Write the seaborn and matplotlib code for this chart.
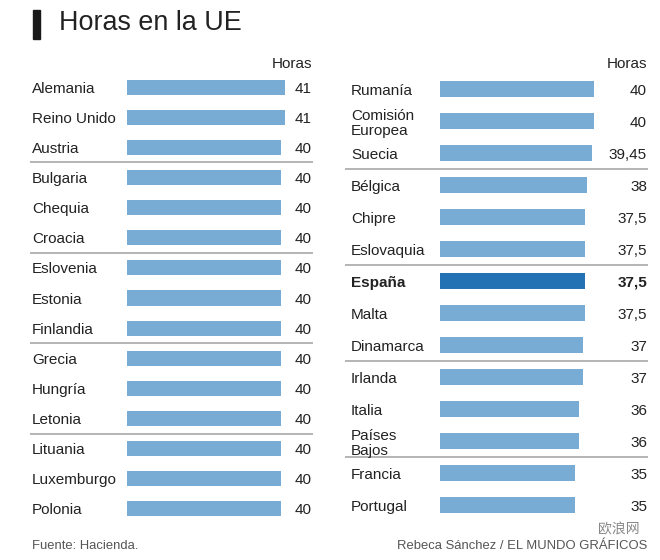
import matplotlib
matplotlib.use("Agg")
import matplotlib.pyplot as plt
import matplotlib.transforms as mtransforms
from matplotlib.patches import Rectangle
import seaborn as sns

# datos (horas semanales de trabajo en la función pública)
paises_izq = ["Alemania", "Reino Unido", "Austria", "Bulgaria", "Chequia",
              "Croacia", "Eslovenia", "Estonia", "Finlandia", "Grecia",
              "Hungría", "Letonia", "Lituania", "Luxemburgo", "Polonia"]
horas_izq = [41, 41, 40, 40, 40, 40, 40, 40, 40, 40, 40, 40, 40, 40, 40]

paises_der = ["Rumanía", "Comisión\nEuropea", "Suecia", "Bélgica", "Chipre",
              "Eslovaquia", "España", "Malta", "Dinamarca", "Irlanda",
              "Italia", "Países\nBajos", "Francia", "Portugal"]
horas_der = [40, 40, 39.45, 38, 37.5, 37.5, 37.5, 37.5, 37, 37, 36, 36, 35, 35]

destacado = "España"

AZUL = "#78acd5"
AZUL_OSCURO = "#2272b4"
TEXTO = "#222222"
GRIS = "#a8a8a8"

sns.set_theme(style="white")
plt.rcParams["font.family"] = ["Liberation Sans", "DejaVu Sans"]

W, H = 660, 560
fig = plt.figure(figsize=(W / 100, H / 100), dpi=100)


def fx(px):
    return px / W


def fy(py):
    return 1 - py / H


def panel(paises, horas, x0, x1, x_cero, y_top, y_bot, escala, x_txt):
    ax = fig.add_axes([fx(x0), fy(y_bot), (x1 - x0) / W, (y_bot - y_top) / H])
    colores = {p: (AZUL_OSCURO if p == destacado else AZUL) for p in paises}
    sns.barplot(x=horas, y=paises, hue=paises, palette=colores, legend=False,
                orient="h", width=0.5, saturation=1, linewidth=0, ax=ax)
    ax.set_xlim(-(x_cero - x0) / escala, (x1 - x_cero) / escala)
    ax.set_ylim(len(paises) - 0.5, -0.5)
    ax.axis("off")
    tr = mtransforms.blended_transform_factory(fig.transFigure, ax.transData)
    for i, (p, h) in enumerate(zip(paises, horas)):
        peso = "bold" if p == destacado else "normal"
        ax.text(fx(x_txt), i, p, transform=tr, ha="left", va="center_baseline",
                fontsize=11, color=TEXTO, fontweight=peso, linespacing=1.1)
        ax.text(fx(x1 - 1), i, f"{h:g}".replace(".", ","), transform=tr,
                ha="right", va="center_baseline", fontsize=11, color=TEXTO,
                fontweight=peso)
    for k in range(3, len(paises), 3):
        ax.axhline(k - 0.5, color=GRIS, lw=1.2)
    ax.text(fx(x1 - 1), -0.83, "Horas", transform=tr, ha="right",
            va="center_baseline", fontsize=11, color=TEXTO)
    return ax


panel(paises_izq, horas_izq, 30, 313, 127, 72, 524, 3.85, 32)
panel(paises_der, horas_der, 345, 648, 440, 73, 521, 3.86, 351)

# título
fig.patches.append(Rectangle((fx(33), fy(39)), 7 / W, 29 / H,
                             transform=fig.transFigure, color="#1a1a1a"))
fig.text(fx(59), fy(23.5), "Horas en la UE", fontsize=19.4, color=TEXTO,
         ha="left", va="center")

# pie
fig.text(fx(32), fy(546), "Fuente: Hacienda.", fontsize=9.4, color="#555555",
         ha="left", va="center")
fig.text(fx(647), fy(546), "Rebeca Sánchez / EL MUNDO GRÁFICOS", fontsize=9.4,
         color="#555555", ha="right", va="center")
fig.text(fx(640), fy(529), "欧浪网", fontsize=10, color="#888888",
         ha="right", va="center", family=["Noto Sans CJK SC", "DejaVu Sans"])

fig.savefig("out.png", dpi=100, facecolor="white")
